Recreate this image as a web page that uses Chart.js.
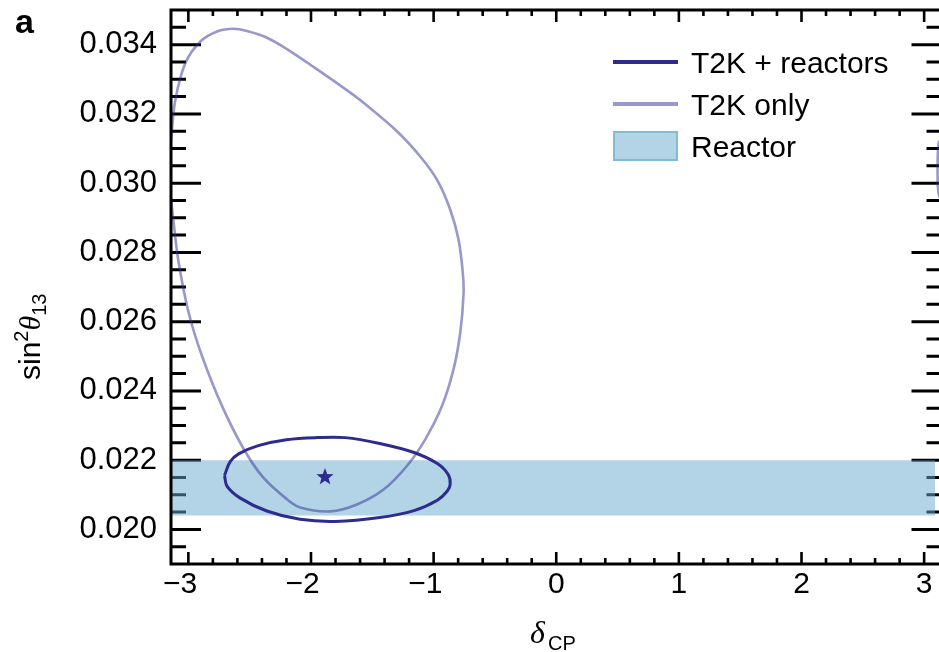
<!DOCTYPE html>
<html>
<head>
<meta charset="utf-8">
<script src="https://cdn.jsdelivr.net/npm/chart.js@4.4.0/dist/chart.umd.min.js"></script>
<style>
  html, body { margin: 0; padding: 0; background: #fff; overflow: hidden; }
  #chart { display: block; }
</style>
</head>
<body>
<canvas id="chart" width="939" height="652"></canvas>
<script>
const PI = Math.PI;

// axis ticks and range (the right frame edge at +pi sits just past the picture)
const xTickValues = [-3, -2, -1, 0, 1, 2, 3];
const yTickValues = [0.020, 0.022, 0.024, 0.026, 0.028, 0.030, 0.032, 0.034];
const yRange = [0.019, 0.035];
const piPixel = 941.5;

// T2K + reactors contour (closed)
const combinedDelta = [-2.705, -2.66, -2.59, -2.43, -2.20, -1.95, -1.72, -1.44, -1.16, -0.97, -0.88, -0.865, -0.89, -0.97, -1.16, -1.44, -1.80, -2.09, -2.36, -2.58, -2.685, -2.705];
const combinedSin2 = [0.02156, 0.02195, 0.02218, 0.02242, 0.02259, 0.02265, 0.02265, 0.02248, 0.02222, 0.02190, 0.02158, 0.02130, 0.02110, 0.02084, 0.02054, 0.02034, 0.02023, 0.02029, 0.02053, 0.02091, 0.02125, 0.02156];

// T2K only contour (wraps around delta = +-pi)
const t2kDelta = [-3.1416, -3.106, -3.024, -2.902, -2.766, -2.631, -2.508, -2.372, -2.209, -1.965, -1.694, -1.571, -1.299, -1.109, -0.973, -0.865, -0.797, -0.762, -0.756, -0.783, -0.838, -0.932, -1.068, -1.218, -1.408, -1.625, -1.843, -2.087, -2.196, -2.39, -2.545, -2.725, -2.888, -2.997, -3.079, -3.120, -3.1416];
const t2kSin2 = [0.03125, 0.03241, 0.03347, 0.03409, 0.03438, 0.03446, 0.03438, 0.03422, 0.0339, 0.03332, 0.03265, 0.03232, 0.03150, 0.03077, 0.03010, 0.02924, 0.02837, 0.02741, 0.02680, 0.02568, 0.02462, 0.02356, 0.0226, 0.02183, 0.02115, 0.02072, 0.02052, 0.02063, 0.02087, 0.02150, 0.02230, 0.02356, 0.0250, 0.02625, 0.0277, 0.02885, 0.02955];
const t2kWrapDelta = [3.1416, 3.118, 3.110, 3.112, 3.125, 3.1416];
const t2kWrapSin2 = [0.0313, 0.03115, 0.0305, 0.0299, 0.0296, 0.02955];

// reactor band and best fit
const reactorBand = [0.0204, 0.0220];
const bestFit = [-1.886, 0.02154];

const darkColor = '#2e2b8e';
const lightColor = 'rgba(50, 50, 150, 0.5)';
const bandColor = 'rgba(103, 169, 205, 0.5)';
const font = '"Liberation Sans", Arial, Helvetica, sans-serif';

const toPoints = (xs, ys) => xs.map((v, i) => ({ x: v, y: ys[i] }));

function makeStar(size, color) {
  const c = document.createElement('canvas');
  c.width = size; c.height = size;
  const g = c.getContext('2d');
  const cx = size / 2, cy = size / 2 + size * 0.06, R = size / 2, r = R * 0.42;
  g.beginPath();
  for (let i = 0; i < 10; i++) {
    const ang = -PI / 2 + i * PI / 5;
    const rad = i % 2 ? r : R;
    g.lineTo(cx + rad * Math.cos(ang), cy + rad * Math.sin(ang));
  }
  g.closePath();
  g.fillStyle = color;
  g.fill();
  return c;
}

// stretch the x scale so that +pi lands at piPixel, whatever padding the layout left
const piEdge = {
  id: 'piEdge',
  afterLayout(chart) {
    const s = chart.scales.x;
    s.max = -PI + (s.right - s.left) * 2 * PI / (piPixel - s.left);
    s.configure();
  }
};

// inward ticks, drawn under the datasets so the band tints them
const frameTicks = {
  id: 'frameTicks',
  beforeDatasetsDraw(chart) {
    const { ctx, chartArea: a, scales: { x, y } } = chart;
    const right = x.getPixelForValue(PI);
    ctx.save();
    ctx.strokeStyle = '#000';
    ctx.lineCap = 'butt';
    ctx.lineWidth = 2.6;
    ctx.beginPath();
    for (let i = 0; i <= 30; i++) {
      const v = -3 + i * 0.2;
      const px = x.getPixelForValue(v);
      const len = i % 5 === 0 ? 12 : 6;
      ctx.moveTo(px, a.bottom); ctx.lineTo(px, a.bottom - len);
      ctx.moveTo(px, a.top); ctx.lineTo(px, a.top + len);
    }
    ctx.stroke();
    ctx.lineWidth = 3;
    ctx.beginPath();
    for (let i = 1; i < 32; i++) {
      const v = 0.019 + i * 0.0005;
      const py = y.getPixelForValue(v);
      const len = (i - 2) % 4 === 0 ? 30 : 15;
      ctx.moveTo(a.left, py); ctx.lineTo(a.left + len, py);
      ctx.moveTo(right, py); ctx.lineTo(right - len, py);
    }
    ctx.stroke();
    ctx.restore();
  },
  afterDatasetsDraw(chart) {
    const { ctx, chartArea: a, scales: { x } } = chart;
    const right = x.getPixelForValue(PI);
    ctx.save();
    ctx.strokeStyle = '#000';
    ctx.lineWidth = 3;
    ctx.strokeRect(a.left, a.top, right - a.left, a.bottom - a.top);
    ctx.restore();
  },
  afterDraw(chart) {
    const { ctx } = chart;
    ctx.save();
    ctx.fillStyle = '#000';
    ctx.textBaseline = 'alphabetic';

    // panel letter
    ctx.font = 'bold 34px ' + font;
    ctx.fillText('a', 15, 33);

    // x title
    ctx.font = 'italic 32px "Liberation Serif", "DejaVu Serif", serif';
    ctx.fillText('δ', 530, 643);
    ctx.font = '20px ' + font;
    ctx.fillText('CP', 548, 650);

    // y title
    ctx.translate(40, 380);
    ctx.rotate(-PI / 2);
    let xx = 0;
    ctx.font = '30px ' + font;
    ctx.fillText('sin', xx, 0); xx += ctx.measureText('sin').width;
    ctx.font = '20px ' + font;
    ctx.fillText('2', xx, -12); xx += ctx.measureText('2').width;
    ctx.font = 'italic 30px "Liberation Serif", "DejaVu Serif", serif';
    ctx.fillText('θ', xx, 0); xx += ctx.measureText('θ').width;
    ctx.font = '20px ' + font;
    ctx.fillText('13', xx, 6);
    ctx.restore();

    // legend
    ctx.save();
    const rows = [62, 104, 146];
    const items = chart.data.datasets.filter(d => d.legend);
    items.forEach((d, i) => {
      const ry = rows[i];
      if (d.legend === 'line') {
        ctx.strokeStyle = d.borderColor;
        ctx.lineWidth = 4;
        ctx.beginPath();
        ctx.moveTo(613, ry); ctx.lineTo(678, ry);
        ctx.stroke();
      } else {
        ctx.fillStyle = d.backgroundColor;
        ctx.fillRect(613, ry - 15, 65, 30);
        ctx.strokeStyle = 'rgba(103, 169, 205, 0.6)';
        ctx.lineWidth = 2;
        ctx.strokeRect(614, ry - 14, 63, 28);
      }
      ctx.fillStyle = '#000';
      ctx.font = '30px ' + font;
      ctx.textBaseline = 'alphabetic';
      ctx.fillText(d.label, 691, ry + 10.5);
    });
    ctx.restore();
  }
};

new Chart(document.getElementById('chart'), {
  type: 'scatter',
  data: {
    datasets: [
      {
        label: 'best fit',
        data: [{ x: bestFit[0], y: bestFit[1] }],
        pointStyle: makeStar(18, darkColor),
        pointRadius: 1,
        pointBorderWidth: 0,
        showLine: false
      },
      {
        label: 'T2K + reactors',
        legend: 'line',
        data: toPoints(combinedDelta, combinedSin2),
        showLine: true,
        borderColor: darkColor,
        borderWidth: 3,
        tension: 0.35,
        pointRadius: 0
      },
      {
        label: 'T2K only',
        legend: 'line',
        data: toPoints(t2kDelta, t2kSin2),
        showLine: true,
        borderColor: lightColor,
        borderWidth: 2.6,
        tension: 0.35,
        pointRadius: 0
      },
      {
        label: 'Reactor',
        legend: 'box',
        data: [{ x: -PI, y: reactorBand[1] }, { x: PI, y: reactorBand[1] }],
        showLine: true,
        clip: false,
        borderWidth: 0,
        borderColor: 'rgba(0,0,0,0)',
        backgroundColor: bandColor,
        fill: { value: reactorBand[0] },
        pointRadius: 0
      },
      {
        label: 'T2K only wrap',
        data: toPoints(t2kWrapDelta, t2kWrapSin2),
        showLine: true,
        clip: false,
        borderColor: lightColor,
        borderWidth: 2.6,
        tension: 0.35,
        pointRadius: 0
      }
    ]
  },
  options: {
    responsive: false,
    animation: false,
    layout: { padding: { top: 10, right: 0, left: 0, bottom: 0 } },
    plugins: {
      legend: { display: false },
      tooltip: { enabled: false }
    },
    scales: {
      x: {
        type: 'linear',
        min: -PI,
        max: PI,
        grid: { display: false },
        border: { display: false },
        afterBuildTicks: s => { s.ticks = xTickValues.map(v => ({ value: v })); },
        afterFit: s => { s.height = 88; s.paddingLeft = 0; s.paddingRight = 0; },
        ticks: {
          color: '#000',
          padding: -5,
          maxRotation: 0,
          font: { family: font, size: 30 },
          callback: v => v < 0 ? '\u2212' + Math.abs(v) + '\u2007' : String(v)
        }
      },
      y: {
        type: 'linear',
        min: yRange[0],
        max: yRange[1],
        grid: { display: false },
        border: { display: false },
        afterBuildTicks: s => { s.ticks = yTickValues.map(v => ({ value: v })); },
        afterFit: s => { s.width = 171; s.paddingTop = 0; s.paddingBottom = 0; },
        ticks: {
          color: '#000',
          padding: 6,
          font: { family: font, size: 31 },
          callback: v => v.toFixed(3)
        }
      }
    }
  },
  plugins: [piEdge, frameTicks]
});
</script>
</body>
</html>
